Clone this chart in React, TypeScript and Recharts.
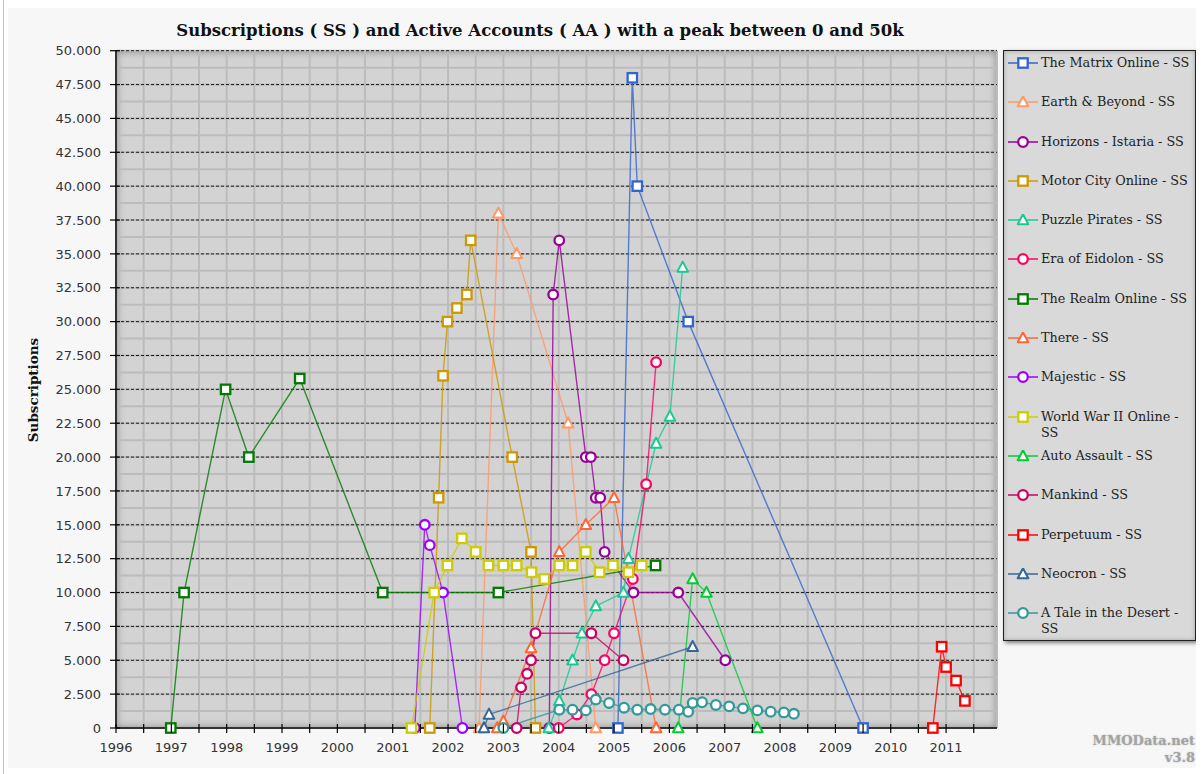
import React from 'react';
import { LineChart, Line, XAxis, YAxis, CartesianGrid, ReferenceLine } from 'recharts';

// [year, subscriptions]
const matrixOnline = [[2005.07, 0], [2005.33, 48000], [2005.42, 40000], [2006.34, 30000], [2009.5, 0]];
const earthBeyond = [[2002.56, 0], [2002.91, 38000], [2003.24, 35000], [2004.17, 22500], [2004.67, 0]];
const horizons = [[2003.83, 0], [2003.9, 32000], [2004.01, 36000], [2004.49, 20000], [2004.58, 20000], [2004.67, 17000], [2004.75, 17000], [2004.83, 13000], [2005.35, 10000], [2006.16, 10000], [2007.01, 5000]];
const motorCity = [[2001.67, 0], [2001.83, 17000], [2001.91, 26000], [2001.99, 30000], [2002.16, 31000], [2002.34, 32000], [2002.41, 36000], [2003.16, 20000], [2003.5, 13000], [2003.58, 0]];
const puzzlePirates = [[2003.82, 0], [2004.01, 2000], [2004.25, 5000], [2004.42, 7000], [2004.67, 9000], [2005.17, 10000], [2005.26, 12500], [2005.76, 21000], [2006.01, 23000], [2006.24, 34000]];
const eraOfEidolon = [[2004.0, 0], [2004.33, 1000], [2004.59, 2500], [2004.83, 5000], [2005.0, 7000], [2005.34, 11000], [2005.58, 18000], [2005.76, 27000]];
const realmOnline = [[1996.99, 0], [1997.23, 10000], [1997.98, 25000], [1998.4, 20000], [1999.32, 25800], [2000.82, 10000], [2002.91, 10000], [2005.75, 12000]];
const there = [[2002.89, 0], [2003.0, 500], [2003.5, 5900], [2004.01, 13000], [2004.49, 15000], [2005.0, 17000], [2005.76, 0]];
const majestic = [[2001.4, 0], [2001.58, 15000], [2001.67, 13500], [2001.91, 10000], [2002.26, 0]];
const worldWar2 = [[2001.34, 0], [2001.75, 10000], [2001.99, 12000], [2002.25, 14000], [2002.5, 13000], [2002.73, 12000], [2003.0, 12000], [2003.24, 12000], [2003.51, 11500], [2003.74, 11000], [2004.01, 12000], [2004.25, 12000], [2004.49, 13000], [2004.74, 11500], [2004.98, 12000], [2005.26, 11500], [2005.5, 12000]];
const autoAssault = [[2006.16, 0], [2006.42, 11000], [2006.67, 10000], [2007.59, 0]];
const mankind = [[2003.24, 0], [2003.32, 3000], [2003.43, 4000], [2003.5, 5000], [2003.58, 7000], [2004.59, 7000], [2005.17, 5000]];
const perpetuum = [[2010.76, 0], [2010.92, 6000], [2011.0, 4500], [2011.18, 3500], [2011.34, 2000]];
const neocron = [[2002.65, 0], [2002.74, 1000], [2006.42, 6000]];
const taleInDesert = [[2003.0, 0], [2004.01, 1350], [2004.25, 1350], [2004.49, 1300], [2004.67, 2100], [2004.91, 1850], [2005.18, 1500], [2005.42, 1350], [2005.66, 1400], [2005.92, 1350], [2006.17, 1350], [2006.34, 1200], [2006.42, 1850], [2006.59, 1900], [2006.84, 1700], [2007.08, 1600], [2007.33, 1450], [2007.59, 1300], [2007.83, 1200], [2008.07, 1150], [2008.25, 1050]];

const xTicks = Array.from({ length: 32 }, (_, i) => 1996 + i * 0.5);
const yTicks = Array.from({ length: 41 }, (_, i) => i * 1250);
const yMajor = yTicks.filter((v) => v > 0 && v % 2500 === 0);

type Shape = 'square' | 'triangle' | 'circle';

const series: { name: string; data: number[][]; color: string; shape: Shape }[] = [
  { name: 'The Matrix Online - SS', data: matrixOnline, color: '#3366CC', shape: 'square' },
  { name: 'Earth & Beyond - SS', data: earthBeyond, color: '#FF9966', shape: 'triangle' },
  { name: 'Horizons - Istaria - SS', data: horizons, color: '#990099', shape: 'circle' },
  { name: 'Motor City Online - SS', data: motorCity, color: '#CC9900', shape: 'square' },
  { name: 'Puzzle Pirates - SS', data: puzzlePirates, color: '#19C994', shape: 'triangle' },
  { name: 'Era of Eidolon - SS', data: eraOfEidolon, color: '#FF0066', shape: 'circle' },
  { name: 'The Realm Online - SS', data: realmOnline, color: '#007A00', shape: 'square' },
  { name: 'There - SS', data: there, color: '#FF6633', shape: 'triangle' },
  { name: 'Majestic - SS', data: majestic, color: '#9900FF', shape: 'circle' },
  { name: 'World War II Online - SS', data: worldWar2, color: '#CCCC00', shape: 'square' },
  { name: 'Auto Assault - SS', data: autoAssault, color: '#00CC33', shape: 'triangle' },
  { name: 'Mankind - SS', data: mankind, color: '#CC0066', shape: 'circle' },
  { name: 'Perpetuum  - SS', data: perpetuum, color: '#FF0000', shape: 'square' },
  { name: 'Neocron - SS', data: neocron, color: '#336699', shape: 'triangle' },
  { name: 'A Tale in the Desert - SS', data: taleInDesert, color: '#339999', shape: 'circle' },
];

const W = 1193;
const H = 760;
const M = { top: 42.7, right: 204, bottom: 10, left: 0 };
const Y_AXIS_W = 108;
const X_AXIS_H = 30;

const serif = '"DejaVu Serif", serif';
const sans = '"DejaVu Sans", sans-serif';

function Marker({ cx, cy, shape, color }: { cx: number; cy: number; shape: Shape; color: string }) {
  if (shape === 'square') {
    return <rect x={cx - 4.7} y={cy - 4.7} width={9.4} height={9.4} fill="#fff" stroke={color} strokeWidth={2.3} />;
  }
  if (shape === 'triangle') {
    return (
      <polygon
        points={`${cx},${cy - 5.8} ${cx - 5.3},${cy + 4.2} ${cx + 5.3},${cy + 4.2}`}
        fill="#fff"
        stroke={color}
        strokeWidth={2}
        strokeLinejoin="round"
      />
    );
  }
  return <circle cx={cx} cy={cy} r={4.8} fill="#fff" stroke={color} strokeWidth={2.3} />;
}

const fmt = (v: number) => {
  const s = String(v);
  return s.length > 3 ? s.slice(0, -3) + '.' + s.slice(-3) : s;
};

const YTick = (props: any) => {
  const { x, y, payload } = props;
  if (payload.value % 2500 !== 0) return <g />;
  return (
    <g>
      <line x1={x + 9} x2={x + 19} y1={y} y2={y} stroke="#000" strokeWidth={1.2} />
      <text x={x} y={y} dy={4.7} textAnchor="end" fontSize={13} fill="#333" fontFamily={sans}>
        {fmt(payload.value)}
      </text>
    </g>
  );
};

const XTick = (props: any) => {
  const { x, y, payload } = props;
  const isYear = Number.isInteger(payload.value);
  return (
    <g>
      <line x1={x} x2={x} y1={y - 18} y2={y - 9} stroke="#000" strokeWidth={1.2} />
      {isYear && (
        <text x={x} y={y} dy={9.5} textAnchor="middle" fontSize={13} fill="#333" fontFamily={sans}>
          {payload.value}
        </text>
      )}
    </g>
  );
};

function LegendIcon({ color, shape }: { color: string; shape: Shape }) {
  return (
    <svg width={30} height={12} style={{ flex: 'none', marginTop: 2 }}>
      <line x1={0} x2={30} y1={6} y2={6} stroke={color} strokeWidth={1.5} />
      <Marker cx={15} cy={6} shape={shape} color={color} />
    </svg>
  );
}

export default function App() {
  const plotLeft = M.left + Y_AXIS_W;
  const plotTop = M.top;
  const plotW = W - M.right - plotLeft;
  const plotH = H - M.bottom - X_AXIS_H - M.top;

  return (
    <>
      <div style={{ position: 'fixed', left: 3, top: 0, width: 1, height: 774, background: '#a9c6e6' }} />
      <div
        style={{
          position: 'relative',
          width: W,
          height: H,
          background: '#f7f7f7',
          boxShadow: '0 0 0 1px #c9c9c9, 1px 3px 5px rgba(0,0,0,0.35)',
        }}
      >
        <div
          style={{
            position: 'absolute',
            left: plotLeft,
            top: plotTop,
            width: plotW,
            height: plotH,
            background: '#d3d3d3',
            boxShadow: 'inset 0 0 8px rgba(0,0,0,0.4)',
          }}
        />
        <div
          style={{
            position: 'absolute',
            left: 0,
            top: 13,
            width: 1064,
            textAlign: 'center',
            fontFamily: serif,
            fontWeight: 'bold',
            fontSize: 16.5,
            lineHeight: '20px',
            color: '#111',
          }}
        >
          Subscriptions ( SS ) and Active Accounts ( AA ) with a peak between 0 and 50k
        </div>
        <div
          style={{
            position: 'absolute',
            left: 25,
            top: 382,
            transform: 'translate(-50%, -50%) rotate(-90deg)',
            fontFamily: serif,
            fontWeight: 'bold',
            fontSize: 13.5,
            whiteSpace: 'nowrap',
            color: '#111',
          }}
        >
          Subscriptions
        </div>
        <div style={{ position: 'absolute', left: 0, top: 0 }}>
          <LineChart width={W} height={H} margin={M}>
            <CartesianGrid stroke="#bcbcbc" strokeWidth={2} />
            {yMajor.map((v) => (
              <ReferenceLine key={v} y={v} stroke="#1a1a1a" strokeDasharray="3 2" strokeWidth={1} />
            ))}
            <XAxis
              type="number"
              dataKey="x"
              domain={[1996, 2011.92]}
              ticks={xTicks}
              interval={0}
              height={X_AXIS_H}
              tickSize={6}
              tickMargin={8}
              tickLine={false}
              tick={<XTick />}
              axisLine={{ stroke: '#333', strokeWidth: 2 }}
            />
            <YAxis
              type="number"
              domain={[0, 50000]}
              ticks={yTicks}
              interval={0}
              width={Y_AXIS_W}
              tickSize={6}
              tickMargin={9}
              tickLine={false}
              tick={<YTick />}
              axisLine={{ stroke: '#333', strokeWidth: 2 }}
            />
            {series.map((s) => (
              <Line
                key={s.name}
                data={s.data.map(([x, y]) => ({ x, y }))}
                dataKey="y"
                type="linear"
                stroke={s.color}
                strokeWidth={1.4}
                strokeOpacity={0.8}
                isAnimationActive={false}
                activeDot={false}
                dot={(p: any) => (
                  <Marker key={`${s.name}-${p.index}`} cx={p.cx} cy={p.cy} shape={s.shape} color={s.color} />
                )}
              />
            ))}
          </LineChart>
        </div>
        <div
          style={{
            position: 'absolute',
            left: 995,
            top: 42,
            width: 193,
            height: 591,
            boxSizing: 'border-box',
            background: '#d9d9d9',
            border: '1px solid #222',
            boxShadow: '2px 2px 4px rgba(0,0,0,0.5), inset 0 0 4px rgba(0,0,0,0.25)',
            paddingTop: 4,
            paddingLeft: 4,
          }}
        >
          {series.map((s) => (
            <div
              key={s.name}
              style={{
                display: 'flex',
                alignItems: 'flex-start',
                height: 39.3,
                gap: 3,
              }}
            >
              <LegendIcon color={s.color} shape={s.shape} />
              <div style={{ fontFamily: serif, fontSize: 12.8, lineHeight: '16px', color: '#222', width: 152 }}>
                {s.name}
              </div>
            </div>
          ))}
        </div>
        <div
          style={{
            position: 'absolute',
            right: 6,
            top: 724,
            textAlign: 'right',
            fontFamily: serif,
            fontWeight: 'bold',
            fontSize: 13,
            lineHeight: '17px',
            color: '#a3a3a3',
            textShadow: '0 0 2px #c4c4c4',
          }}
        >
          MMOData.net
          <br />
          v3.8
        </div>
      </div>
    </>
  );
}
